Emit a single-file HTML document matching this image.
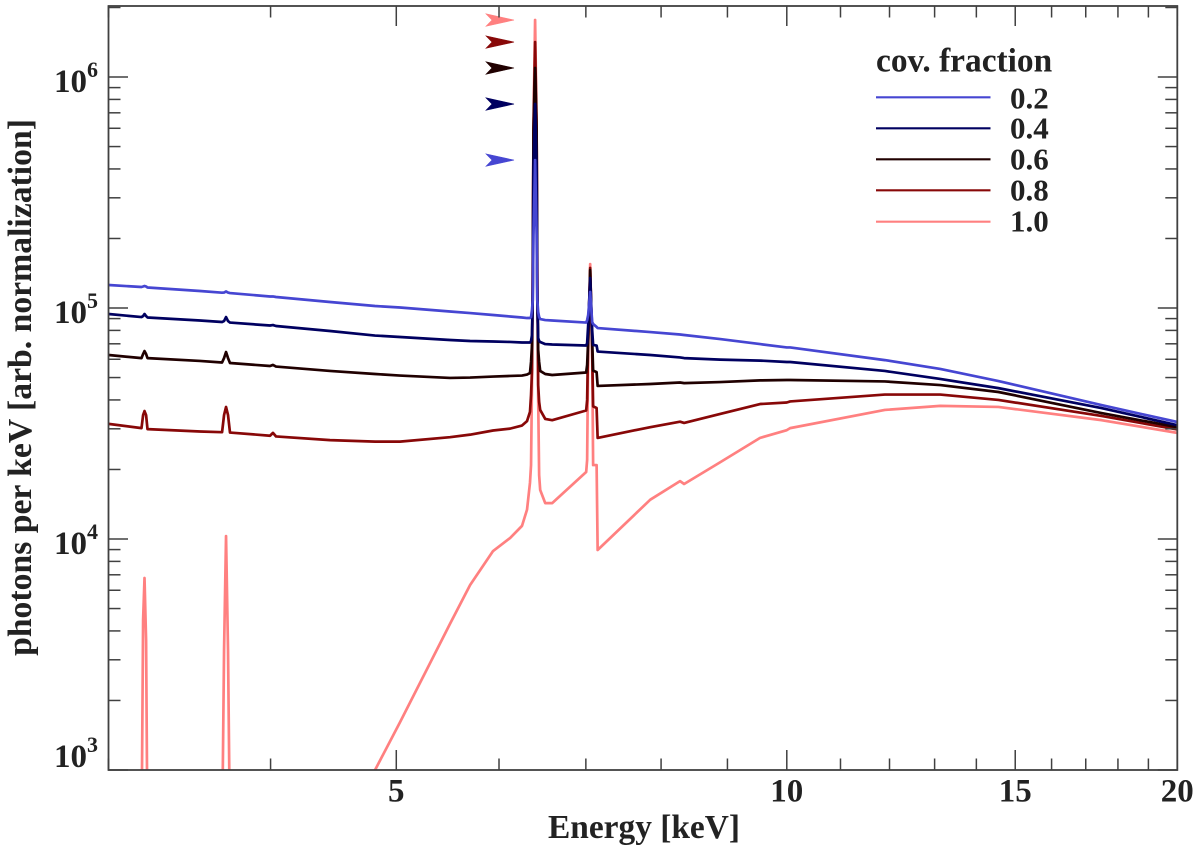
<!DOCTYPE html>
<html lang="en">
<head>
<meta charset="utf-8">
<title>Iron line spectra by covering fraction</title>
<style>
  html, body { margin: 0; padding: 0; background: #fff; }
  body { width: 1200px; height: 853px; overflow: hidden; }
  svg { display: block; }
  text { font-family: "Liberation Serif", serif; font-weight: bold; fill: #222; }
</style>
</head>
<body>
<svg id="chart" xmlns="http://www.w3.org/2000/svg" width="1200" height="853" viewBox="0 0 1200 853">
  <defs>
    <clipPath id="plot-clip"><rect x="108.5" y="6" width="668.8" height="764"></rect><rect x="777" y="6" width="400.3" height="764"></rect></clipPath>
  </defs>
  <g id="curves" clip-path="url(#plot-clip)"></g>
  <g id="arrows"></g>
  <g id="axes"></g>

  <text x="644" y="838" font-size="33.4" text-anchor="middle">Energy [keV]</text>
  <text transform="translate(31,387.5) rotate(-90)" font-size="33.7" text-anchor="middle">photons per keV [arb. normalization]</text>

  <g>
    <text x="876" y="71.5" font-size="33.4">cov. fraction</text>
    <line x1="876" x2="990.5" y1="97.3" y2="97.3" stroke="#4646d2" stroke-width="2.2"></line>
    <text x="1010" y="108.3" font-size="31">0.2</text>
    <line x1="876" x2="990.5" y1="128.3" y2="128.3" stroke="#000060" stroke-width="2.2"></line>
    <text x="1010" y="138.5" font-size="31">0.4</text>
    <line x1="876" x2="990.5" y1="159.3" y2="159.3" stroke="#200000" stroke-width="2.2"></line>
    <text x="1010" y="169.5" font-size="31">0.6</text>
    <line x1="876" x2="990.5" y1="190.3" y2="190.3" stroke="#880808" stroke-width="2.2"></line>
    <text x="1010" y="200.7" font-size="31">0.8</text>
    <line x1="876" x2="990.5" y1="221.7" y2="221.7" stroke="#ff8080" stroke-width="2.2"></line>
    <text x="1010" y="231.7" font-size="31">1.0</text>
  </g>
</svg>
<script>
const energies = [3.000,3.181,3.190,3.198,3.207,3.215,3.529,3.670,3.683,3.696,3.709,3.722,3.996,4.017,4.039,4.445,4.815,5.033,5.500,5.700,5.937,6.119,6.250,6.306,6.339,6.351,6.362,6.370,6.379,6.397,6.414,6.422,6.432,6.443,6.455,6.513,6.594,7.004,7.016,7.029,7.054,7.079,7.091,7.135,7.148,7.848,8.274,8.334,8.885,9.537,10.00,10.06,11.90,13.13,14.56,17.48,20.00];
const flux02 = [125800,123300,123900,124600,123900,122700,118500,116500,116700,117900,116700,116100,112200,112200,111600,106200,102000,100500,96600,95100,93300,91900,91000,90500,90500,91400,98000,108300,207000,437000,207000,108300,96100,91400,89600,88700,88300,86500,88700,93300,117300,87000,85300,82800,81900,78700,76800,76400,73400,69800,67500,67500,59500,54500,48300,38000,32100];
const flux04 = [94200,91400,92300,94200,92300,91000,88300,87000,87800,91400,87800,86500,84000,84400,83600,79500,76000,74900,72700,72000,71600,71300,70900,70900,70900,72000,76400,108300,396000,764000,396000,108300,74100,72000,71300,69800,69500,68800,70500,84400,134900,80300,69200,68800,64800,62600,61100,60700,59800,59200,58400,58400,53400,49300,45000,36900,31100];
const flux06 = [62600,60700,63200,65100,63200,60700,59000,58100,60700,64500,60700,57800,56100,56700,55800,53400,51800,51000,49800,50000,50500,50800,51000,51500,52300,58400,69200,125800,590000,1094000,590000,125800,65800,58400,53400,51800,51300,52600,56700,72700,146000,72700,53600,52800,46000,46900,47600,47300,47800,48600,48800,48800,48100,46400,43300,35100,30500];
const flux08 = [31500,30200,34400,35800,34400,29900,29200,29000,34400,37300,34400,28900,28000,28800,27800,26800,26400,26400,27600,28300,29500,30050,31000,32400,35500,42000,53900,146000,590000,1417000,590000,146000,46400,39200,36200,33100,32700,36000,40000,72700,149000,65800,37500,36900,27400,30500,32200,31800,34800,38400,39000,39400,42200,42200,40000,34100,29800];
const flux10 = [500,500,4460,6780,3650,500,500,500,3310,10300,3310,500,500,500,500,500,1000,1610,4290,6320,8870,10100,11400,13400,17500,20900,48800,161000,651000,1765000,651000,161000,40000,18900,16300,14300,14300,19500,22000,65800,155000,65800,20900,20900,8960,14800,17800,17300,21500,27400,29600,30200,36200,37700,37300,32700,28800];

const xMajorTicks = [5,10,15,20];
const xMinorTicks = [3,4,6,7,8,9,11,12,13,14,16,17,18,19];
const xTickLabels = ["5","10","15","20"];
const yMajorTicks = [1e3,1e4,1e5,1e6];
const yMinorTicks = [2e3,3e3,4e3,5e3,6e3,7e3,8e3,9e3,2e4,3e4,4e4,5e4,6e4,7e4,8e4,9e4,2e5,3e5,4e5,5e5,6e5,7e5,8e5,9e5,2e6];
const yTickExponents = ["3","4","5","6"];

const SVGNS = "http://www.w3.org/2000/svg";
const plotLeft = 108.5, plotRight = 1177.3, plotTop = 6, plotBottom = 770;
const xMin = 3, xMax = 20, yMin = 1e3, yMax = 2.03e6;
const xScale = function (e) {
  return plotLeft + (Math.log10(e) - Math.log10(xMin)) / (Math.log10(xMax) - Math.log10(xMin)) * (plotRight - plotLeft);
};
const yScale = function (v) {
  return plotBottom - (Math.log10(v) - Math.log10(yMin)) / (Math.log10(yMax) - Math.log10(yMin)) * (plotBottom - plotTop);
};

function mk(tag, parent, attrs) {
  const el = document.createElementNS(SVGNS, tag);
  for (const k in attrs) el.setAttribute(k, attrs[k]);
  parent.appendChild(el);
  return el;
}

const curves = document.getElementById("curves");
const arrows = document.getElementById("arrows");
const axes = document.getElementById("axes");

/* drawn from 1.0 up to 0.2 so the bluer curves sit on top */
const seriesOrder = [
  { label: "1.0", color: "#ff8080", values: flux10 },
  { label: "0.8", color: "#880808", values: flux08 },
  { label: "0.6", color: "#200000", values: flux06 },
  { label: "0.4", color: "#000060", values: flux04 },
  { label: "0.2", color: "#4646d2", values: flux02 }
];

seriesOrder.forEach(function (s) {
  const pts = s.values.map(function (v, i) {
    return xScale(energies[i]).toFixed(2) + "," + yScale(v).toFixed(2);
  }).join(" ");
  const line = mk("polyline", curves, {
    points: pts, fill: "none", stroke: s.color, "stroke-width": 2.7,
    "stroke-linejoin": "round", "stroke-linecap": "round"
  });
  
  

  const y = yScale(Math.max.apply(null, s.values));
  const arrow = mk("polygon", arrows, {
    points: "486," + (y - 6.2) + " 514," + y + " 486," + (y + 6.2) + " 492," + y,
    fill: s.color, stroke: s.color, "stroke-width": 0.6
  });
  
  
});

const frame = mk("rect", axes, {
  x: plotLeft, y: plotTop, width: plotRight - plotLeft, height: plotBottom - plotTop,
  fill: "none", stroke: "#404040", "stroke-width": 1.8
});



function xTick(e, len) {
  const x = xScale(e);
  const bottom = mk("line", axes, { x1: x, x2: x, y1: plotBottom, y2: plotBottom - len, stroke: "#404040", "stroke-width": 1.5 });
  
  
  const top = mk("line", axes, { x1: x, x2: x, y1: plotTop, y2: plotTop + len, stroke: "#404040", "stroke-width": 1.5 });
  
  
}
function yTick(v, len) {
  const y = yScale(v);
  const left = mk("line", axes, { x1: plotLeft, x2: plotLeft + len, y1: y, y2: y, stroke: "#404040", "stroke-width": 1.5 });
  
  
  const right = mk("line", axes, { x1: plotRight, x2: plotRight - len, y1: y, y2: y, stroke: "#404040", "stroke-width": 1.5 });
  
  
}

xMajorTicks.forEach(function (e) { xTick(e, 20); });
xMinorTicks.forEach(function (e) { xTick(e, 11.5); });
yMajorTicks.forEach(function (v) { yTick(v, 19.5); });
yMinorTicks.forEach(function (v) { yTick(v, 12); });

xMajorTicks.forEach(function (e, i) {
  const t = mk("text", axes, { x: xScale(e), y: 801.5, "font-size": 33, "text-anchor": "middle" });
  t.textContent = xTickLabels[i];
  
  
});

yMajorTicks.forEach(function (v, i) {
  const base = Math.min(yScale(v) + 15, 767);
  const t = mk("text", axes, { x: 54, y: base, "font-size": 33 });
  t.textContent = "10";
  
  
  const sup = mk("text", axes, { x: 87, y: base - 15, "font-size": 22 });
  sup.textContent = yTickExponents[i];
  
  
});
</script>
</body>
</html>
